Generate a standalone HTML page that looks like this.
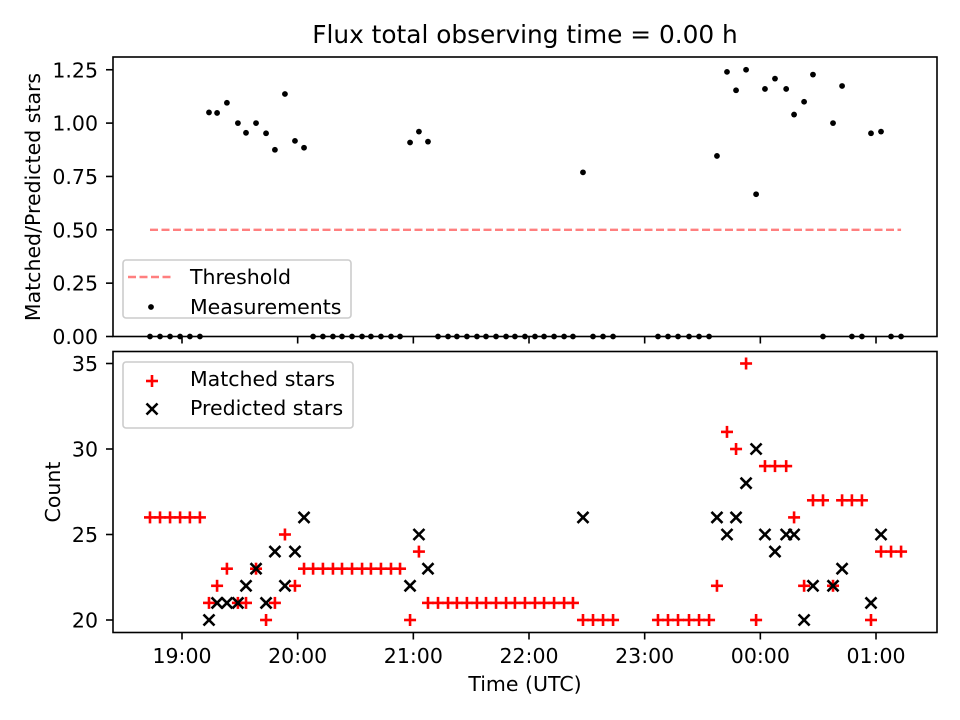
<!DOCTYPE html>
<html><head><meta charset="utf-8"><style>
html,body{margin:0;padding:0;background:#fff;}
svg{display:block;font-family:"DejaVu Sans","Liberation Sans",sans-serif;}
</style></head><body>
<svg id="chart" width="960" height="720" viewBox="0 0 960 720" xmlns="http://www.w3.org/2000/svg"></svg>
<script>
// minutes since 18:00 UTC
const times = [43.4,48.6,53.8,59.0,64.1,69.3,
74.0,78.2,83.3,89.0,93.2,98.4,103.6,108.2,113.4,118.6,123.3,
128.0,133.1,138.3,143.0,148.2,153.4,158.0,163.2,168.4,173.1,
178.3,182.9,187.6,
192.8,198.0,202.6,207.8,213.0,217.7,222.9,228.1,232.7,237.9,243.1,247.8,253.0,258.2,262.8,
268.0,273.2,278.4,283.6,
306.9,312.1,317.3,323.0,328.2,333.4,
337.5,342.7,347.4,352.6,357.8,362.4,367.6,373.4,377.5,382.7,387.3,392.5,397.7,402.4,407.5,412.7,417.4,422.6,427.8,433.0];
const matched = [26,26,26,26,26,26,
21,22,23,21,21,23,20,21,25,22,23,
23,23,23,23,23,23,23,23,23,23,
20,24,21,
21,21,21,21,21,21,21,21,21,21,21,21,21,21,21,
20,20,20,20,
20,20,20,20,20,20,
22,31,30,35,20,29,29,29,26,22,27,27,22,27,27,27,20,24,24,24];
const predicted = [null,null,null,null,null,null,
20,21,21,21,22,23,21,24,22,24,26,
null,null,null,null,null,null,null,null,null,null,
22,25,23,
null,null,null,null,null,null,null,null,null,null,null,null,null,null,null,
26,null,null,null,
null,null,null,null,null,null,
26,25,26,28,30,25,24,25,25,20,22,null,22,23,null,null,21,25,null,null];
const threshold = 0.5;
const xTickMinutes = [60,120,180,240,300,360,420];
const xTickLabels = ["19:00","20:00","21:00","22:00","23:00","00:00","01:00"];
const topTicks = [0,0.25,0.5,0.75,1.0,1.25];
const topTickLabels = ["0.00","0.25","0.50","0.75","1.00","1.25"];
const botTicks = [20,25,30,35];

const svg = document.getElementById('chart');
const NS = 'http://www.w3.org/2000/svg';
function mk(tag, attrs, parent){
  const e = document.createElementNS(NS, tag);
  for (const k in attrs) e.setAttribute(k, attrs[k]);
  (parent||svg).appendChild(e);
  return e;
}
const L=113, R=937, FS='20.5';
const xS = m => 182 + (m-60)*1.9278;
const yTop = v => 336.5 - v*213.4;
const yBot = v => 620 - (v-20)*17.1;

const title = mk('text',{x:525,y:43,'text-anchor':'middle','font-size':'24.8'});
title.textContent='Flux total observing time = 0.00 h';



// ---------- top panel ----------
const gT = mk('g',{});


const thr = mk('line',{x1:xS(times[0]),x2:xS(times[times.length-1]),y1:yTop(threshold),y2:yTop(threshold),stroke:'#ff7f7f','stroke-width':2.4,'stroke-dasharray':'8,3.5'},gT);


times.forEach((t,i)=>{
  const r = predicted[i] ? matched[i]/predicted[i] : 0;
  const c = mk('circle',{cx:xS(t),cy:yTop(r),r:2.9,fill:'#000'},gT);
  
  
});
const fT = mk('rect',{x:L,y:57,width:R-L,height:279.5,fill:'none',stroke:'#000','stroke-width':1.6},gT);


topTicks.forEach((v,i)=>{
  const y=yTop(v);
  mk('line',{x1:L-7,x2:L,y1:y,y2:y,stroke:'#000','stroke-width':1.6},gT);
  const tx=mk('text',{x:L-15,y:y+7.5,'text-anchor':'end','font-size':FS},gT);
  tx.textContent=topTickLabels[i];
  
  
});
xTickMinutes.forEach(m=>{ mk('line',{x1:xS(m),x2:xS(m),y1:336.5,y2:343.5,stroke:'#000','stroke-width':1.6},gT); });
const ylT = mk('text',{x:0,y:0,'text-anchor':'middle','font-size':FS,transform:'translate(40,197) rotate(-90)'},gT);
ylT.textContent='Matched/Predicted stars';


const lgT = mk('g',{},gT);


mk('rect',{x:123,y:260,width:228,height:58,rx:3,fill:'#fff','fill-opacity':0.8,stroke:'#ccc','stroke-width':1.6},lgT);
mk('line',{x1:128,x2:174,y1:277,y2:277,stroke:'#ff7f7f','stroke-width':2.4,'stroke-dasharray':'8,3.5'},lgT);
let t1=mk('text',{x:190,y:284,'font-size':FS},lgT); t1.textContent='Threshold';
mk('circle',{cx:151,cy:307,r:2.9,fill:'#000'},lgT);
let t2=mk('text',{x:190,y:314,'font-size':FS},lgT); t2.textContent='Measurements';

// ---------- bottom panel ----------
const gB = mk('g',{});


function plus(x,y,p,color){
  const g=mk('g',{stroke:color,'stroke-width':2.6},p);
  mk('line',{x1:x-6,x2:x+6,y1:y,y2:y},g); mk('line',{x1:x,x2:x,y1:y-6,y2:y+6},g);
  return g;
}
function cross(x,y,p){
  const g=mk('g',{stroke:'#000','stroke-width':2.6},p);
  mk('line',{x1:x-5.5,x2:x+5.5,y1:y-5.5,y2:y+5.5},g); mk('line',{x1:x-5.5,x2:x+5.5,y1:y+5.5,y2:y-5.5},g);
  return g;
}
times.forEach((t,i)=>{
  const m=plus(xS(t),yBot(matched[i]),gB,'#ff0000');
  
  
});
times.forEach((t,i)=>{
  if(predicted[i]==null) return;
  const p=cross(xS(t),yBot(predicted[i]),gB);
  
  
});
const fB = mk('rect',{x:L,y:351.5,width:R-L,height:281,fill:'none',stroke:'#000','stroke-width':1.6},gB);


botTicks.forEach(v=>{
  const y=yBot(v);
  mk('line',{x1:L-7,x2:L,y1:y,y2:y,stroke:'#000','stroke-width':1.6},gB);
  const tx=mk('text',{x:L-15,y:y+7.5,'text-anchor':'end','font-size':FS},gB);
  tx.textContent=String(v);
  
  
});
xTickMinutes.forEach((m,i)=>{
  const x=xS(m);
  mk('line',{x1:x,x2:x,y1:632.5,y2:639.5,stroke:'#000','stroke-width':1.6},gB);
  const tx=mk('text',{x:x,y:663,'text-anchor':'middle','font-size':FS},gB);
  tx.textContent=xTickLabels[i];
  
  
});
const ylB = mk('text',{x:0,y:0,'text-anchor':'middle','font-size':FS,transform:'translate(60,492) rotate(-90)'},gB);
ylB.textContent='Count';


const xl = mk('text',{x:525,y:691,'text-anchor':'middle','font-size':FS},gB);
xl.textContent='Time (UTC)';


const lgB = mk('g',{},gB);


mk('rect',{x:123,y:362,width:230,height:66,rx:3,fill:'#fff','fill-opacity':0.8,stroke:'#ccc','stroke-width':1.6},lgB);
plus(152,381,lgB,'#ff0000');
let t3=mk('text',{x:190,y:386,'font-size':FS},lgB); t3.textContent='Matched stars';
cross(152,409,lgB);
let t4=mk('text',{x:190,y:415,'font-size':FS},lgB); t4.textContent='Predicted stars';
</script>
</body></html>
